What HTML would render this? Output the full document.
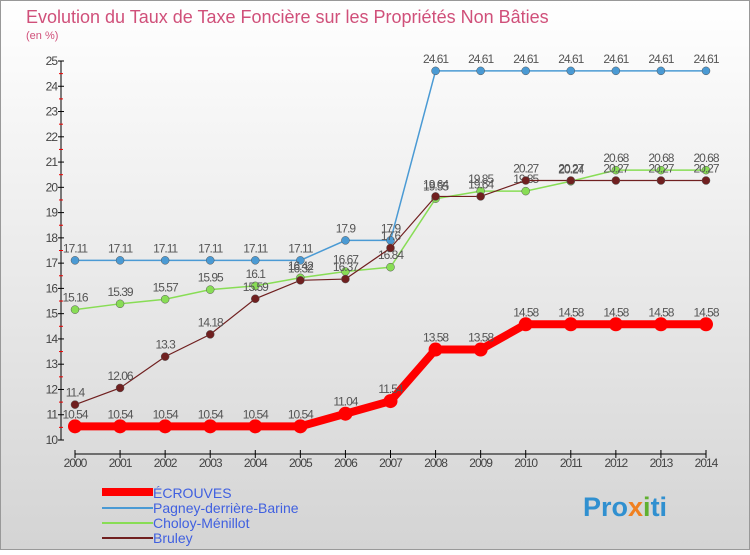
<!DOCTYPE html>
<html><head><meta charset="utf-8"><style>
body{margin:0;width:750px;height:550px;overflow:hidden;font-family:"Liberation Sans",sans-serif}
</style></head><body>
<svg width="750" height="550" xmlns="http://www.w3.org/2000/svg" id="svg">
<defs><linearGradient id="bg" x1="0" y1="0" x2="0" y2="1"><stop offset="0" stop-color="#ffffff"/><stop offset="1" stop-color="#d4d4d4"/></linearGradient></defs>
<rect x="0.5" y="0.5" width="749" height="549" fill="url(#bg)" stroke="#999"/>
<text x="26" y="23" font-size="18" fill="#d0507a">Evolution du Taux de Taxe Foncière sur les Propriétés Non Bâties</text>
<text x="26" y="39" font-size="11" fill="#d0507a">(en %)</text>
<g id="axes"></g><g id="series"></g>
<g>
<line x1="102" y1="492" x2="153" y2="492" stroke="#f00" stroke-width="8"/>
<text x="153" y="498" font-size="14" fill="#4060e0">ÉCROUVES</text>
<line x1="102" y1="508" x2="153" y2="508" stroke="#4a9ad4" stroke-width="2"/>
<text x="153" y="513" font-size="14" fill="#4060e0">Pagney-derrière-Barine</text>
<line x1="102" y1="523" x2="153" y2="523" stroke="#88dd55" stroke-width="2"/>
<text x="153" y="528" font-size="14" fill="#4060e0">Choloy-Ménillot</text>
<line x1="102" y1="538" x2="153" y2="538" stroke="#702020" stroke-width="2"/>
<text x="153" y="543" font-size="14" fill="#4060e0">Bruley</text>
</g>
<text x="583" y="516" font-size="27" font-weight="bold" fill="#3090d0">Pro<tspan fill="#f08020">x</tspan><tspan fill="#60b030">i</tspan>ti</text>
</svg>
<script>
const years=[2000,2001,2002,2003,2004,2005,2006,2007,2008,2009,2010,2011,2012,2013,2014];
const yTicks=[10,11,12,13,14,15,16,17,18,19,20,21,22,23,24,25];
const ecrouves=[10.54,10.54,10.54,10.54,10.54,10.54,11.04,11.54,13.58,13.58,14.58,14.58,14.58,14.58,14.58];
const pagney=[17.11,17.11,17.11,17.11,17.11,17.11,17.9,17.9,24.61,24.61,24.61,24.61,24.61,24.61,24.61];
const choloy=[15.16,15.39,15.57,15.95,16.1,16.42,16.67,16.84,19.55,19.85,19.85,20.24,20.68,20.68,20.68];
const bruley=[11.4,12.06,13.3,14.18,15.59,16.32,16.37,17.6,19.64,19.64,20.27,20.27,20.27,20.27,20.27];
const NS="http://www.w3.org/2000/svg";
const X=i=>75+i*(631/14), Y=v=>440-(v-10)*(379/15);
function mk(t,a,p){const e=document.createElementNS(NS,t);for(const k in a)e.setAttribute(k,a[k]);p.appendChild(e);return e;}
const ax=document.getElementById('axes'), sr=document.getElementById('series');
let l=mk('line',{x1:61,y1:Y(25),x2:61,y2:Y(10),stroke:'#000'},ax);


yTicks.forEach(v=>{
 mk('line',{x1:58,y1:Y(v),x2:64,y2:Y(v),stroke:'#000'},ax);
 if(v<25)mk('line',{x1:59,y1:Y(v+0.5),x2:63,y2:Y(v+0.5),stroke:'#e00'},ax);
 const t=mk('text',{x:57,y:Y(v)+4,'font-size':12,'text-anchor':'end',fill:'#444','letter-spacing':'-1'},ax);t.textContent=v;
 
 
});
const xa=mk('line',{x1:X(0),y1:454,x2:X(14),y2:454,stroke:'#000'},ax);


years.forEach((y,i)=>{
 mk('line',{x1:X(i),y1:450,x2:X(i),y2:458,stroke:'#000'},ax);
 const t=mk('text',{x:X(i),y:467,'font-size':12,'text-anchor':'middle',fill:'#444','letter-spacing':'-1'},ax);t.textContent=y;
 
 
});
function series(name,data,color,w,r){
 const g=mk('g',{},sr);
 
 
 mk('polyline',{points:data.map((v,i)=>X(i)+','+Y(v)).join(' '),fill:'none',stroke:color,'stroke-width':w},g);
 data.forEach((v,i)=>{
  const c=mk('circle',{cx:X(i),cy:Y(v),r:r,fill:color,stroke:w>3?'none':'#555','stroke-width':0.5},g);
  
  
  const t=mk('text',{x:X(i),y:Y(v)-8,'font-size':12,'text-anchor':'middle',fill:'#555','letter-spacing':'-1'},g);
  t.textContent=v;
  
  
 });
}
series('series-pagney',pagney,'#4a9ad4',1.5,4);
series('series-choloy',choloy,'#88dd55',1.5,4);
series('series-bruley',bruley,'#702020',1.2,4);
series('series-ecrouves',ecrouves,'#f00',8,7);
</script>
</body></html>
